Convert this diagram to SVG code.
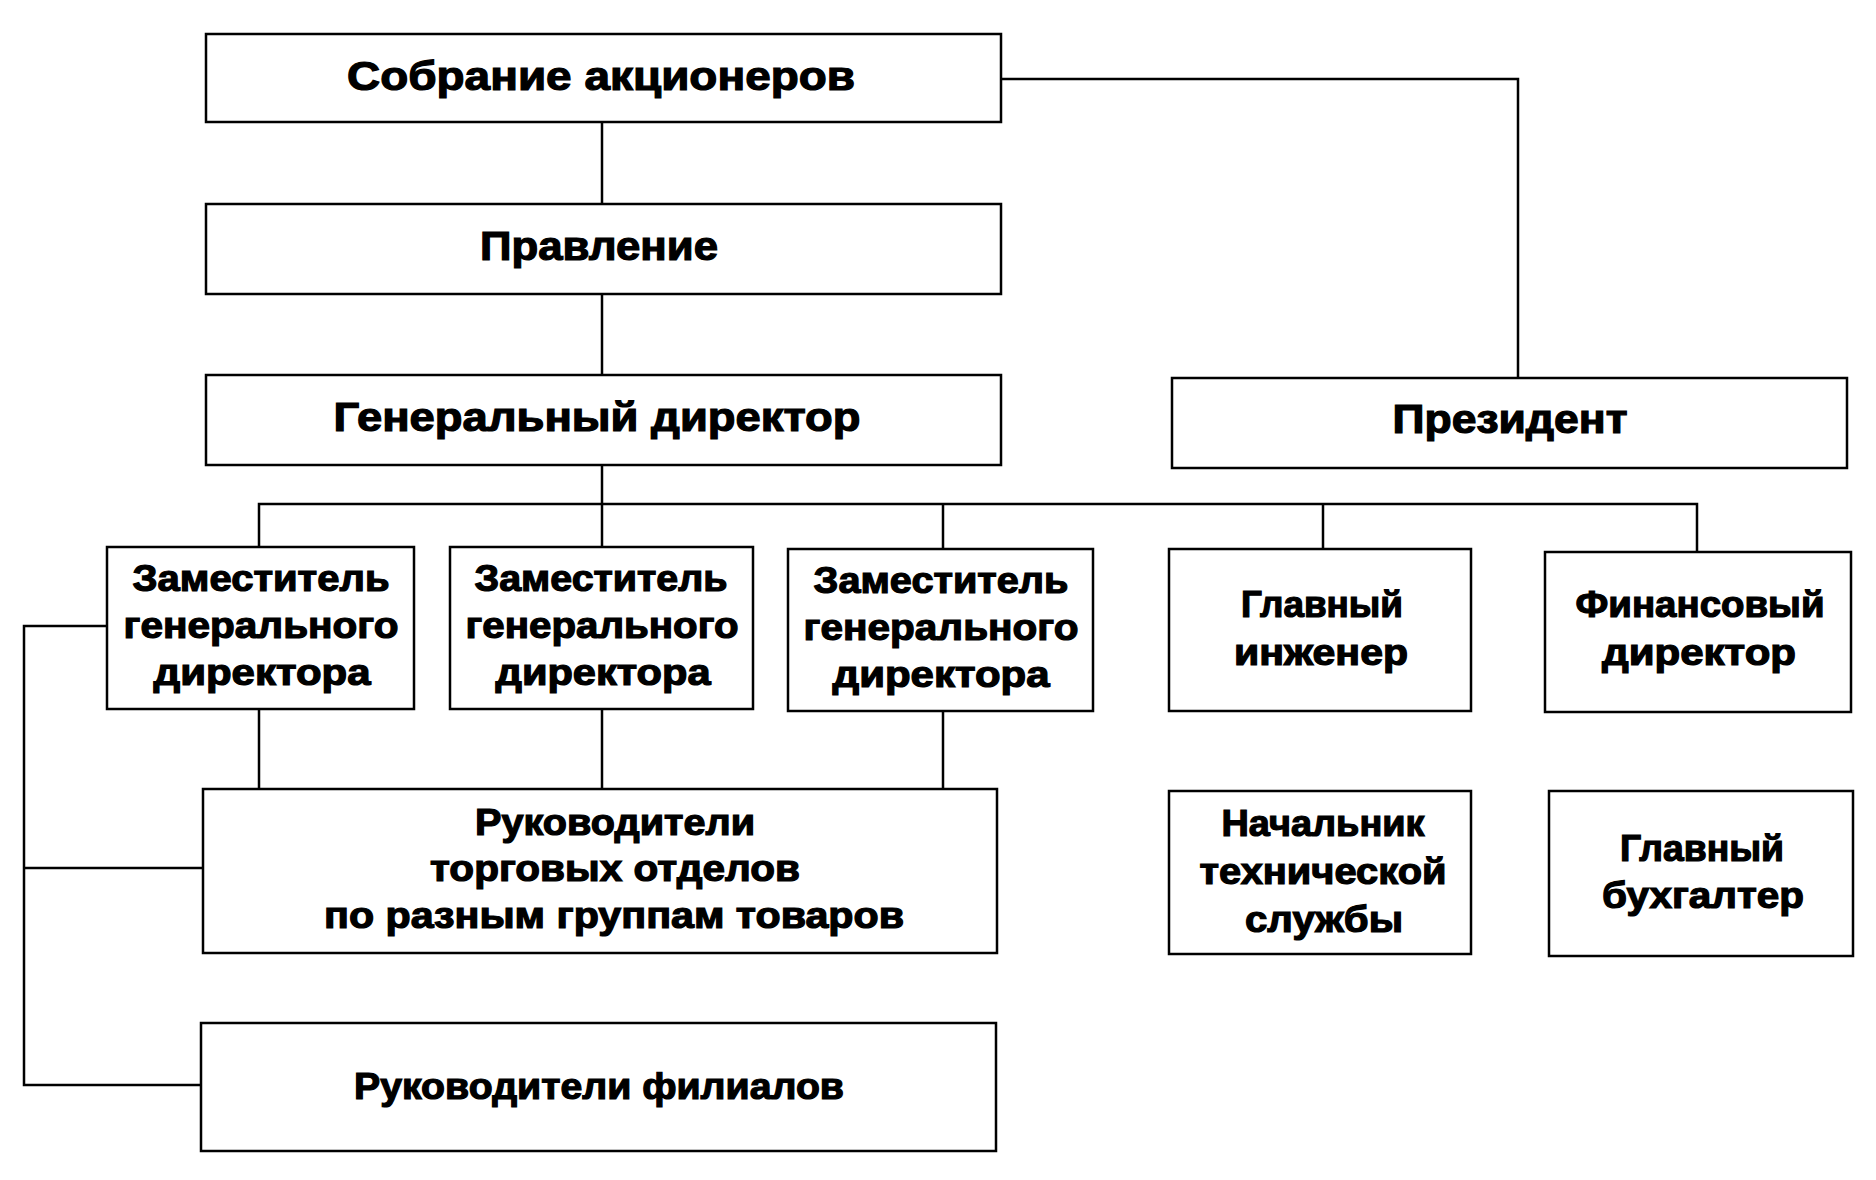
<svg xmlns="http://www.w3.org/2000/svg" width="1876" height="1180" viewBox="0 0 1876 1180">
<style>
.box{fill:#fff;stroke:#000;stroke-width:2.5}
.ln{fill:none;stroke:#000;stroke-width:2.5;stroke-linejoin:miter}
text{font-family:"Liberation Sans","DejaVu Sans",sans-serif;font-weight:bold;fill:#000;stroke:#000;stroke-width:1.2;text-anchor:middle}
.t1{font-size:40px}
.t2{font-size:36px}
</style>
<rect width="1876" height="1180" fill="#fff"/>
<g id="connectors">
<path class="ln" d="M1001 79 H1518 V378"/>
<path class="ln" d="M602 122 V204"/>
<path class="ln" d="M602 294 V375"/>
<path class="ln" d="M602 465 V547"/>
<path class="ln" d="M259 547 V504 H1697 V552"/>
<path class="ln" d="M943 504 V549"/>
<path class="ln" d="M1323 504 V549"/>
<path class="ln" d="M259 709 V789"/>
<path class="ln" d="M602 709 V789"/>
<path class="ln" d="M943 711 V789"/>
<path class="ln" d="M107 626 H24 V1085 H201"/>
<path class="ln" d="M24 868 H203"/>
</g>
<g id="sobranie"><rect class="box" x="206" y="34" width="795" height="88"/><text class="t1" x="601" y="90" textLength="508" lengthAdjust="spacingAndGlyphs">Собрание акционеров</text></g>
<g id="pravlenie"><rect class="box" x="206" y="204" width="795" height="90"/><text class="t1" x="599" y="260" textLength="238" lengthAdjust="spacingAndGlyphs">Правление</text></g>
<g id="gendir"><rect class="box" x="206" y="375" width="795" height="90"/><text class="t1" x="597" y="431" textLength="527" lengthAdjust="spacingAndGlyphs">Генеральный директор</text></g>
<g id="president"><rect class="box" x="1172" y="378" width="675" height="90"/><text class="t1" x="1510" y="433" textLength="235" lengthAdjust="spacingAndGlyphs">Президент</text></g>
<g id="deputy1"><rect class="box" x="107" y="547" width="307" height="162"/>
<text class="t2" x="261" y="591" textLength="257" lengthAdjust="spacingAndGlyphs">Заместитель</text>
<text class="t2" x="261" y="638" textLength="275" lengthAdjust="spacingAndGlyphs">генерального</text>
<text class="t2" x="262" y="685" textLength="217" lengthAdjust="spacingAndGlyphs">директора</text></g>
<g id="deputy2"><rect class="box" x="450" y="547" width="303" height="162"/>
<text class="t2" x="601" y="591" textLength="253" lengthAdjust="spacingAndGlyphs">Заместитель</text>
<text class="t2" x="602" y="638" textLength="273" lengthAdjust="spacingAndGlyphs">генерального</text>
<text class="t2" x="603" y="685" textLength="215" lengthAdjust="spacingAndGlyphs">директора</text></g>
<g id="deputy3"><rect class="box" x="788" y="549" width="305" height="162"/>
<text class="t2" x="941" y="593" textLength="255" lengthAdjust="spacingAndGlyphs">Заместитель</text>
<text class="t2" x="941" y="640" textLength="275" lengthAdjust="spacingAndGlyphs">генерального</text>
<text class="t2" x="941" y="687" textLength="217" lengthAdjust="spacingAndGlyphs">директора</text></g>
<g id="glavinzh"><rect class="box" x="1169" y="549" width="302" height="162"/>
<text class="t2" x="1322" y="617" textLength="162" lengthAdjust="spacingAndGlyphs">Главный</text>
<text class="t2" x="1321" y="665" textLength="174" lengthAdjust="spacingAndGlyphs">инженер</text></g>
<g id="findir"><rect class="box" x="1545" y="552" width="306" height="160"/>
<text class="t2" x="1700" y="617" textLength="249" lengthAdjust="spacingAndGlyphs">Финансовый</text>
<text class="t2" x="1699" y="665" textLength="194" lengthAdjust="spacingAndGlyphs">директор</text></g>
<g id="rukotd"><rect class="box" x="203" y="789" width="794" height="164"/>
<text class="t2" x="615" y="835" textLength="280" lengthAdjust="spacingAndGlyphs">Руководители</text>
<text class="t2" x="615" y="881" textLength="370" lengthAdjust="spacingAndGlyphs">торговых отделов</text>
<text class="t2" x="614" y="928" textLength="580" lengthAdjust="spacingAndGlyphs">по разным группам товаров</text></g>
<g id="nachtech"><rect class="box" x="1169" y="791" width="302" height="163"/>
<text class="t2" x="1323" y="836" textLength="203" lengthAdjust="spacingAndGlyphs">Начальник</text>
<text class="t2" x="1323" y="884" textLength="247" lengthAdjust="spacingAndGlyphs">технической</text>
<text class="t2" x="1324" y="932" textLength="158" lengthAdjust="spacingAndGlyphs">службы</text></g>
<g id="glavbuh"><rect class="box" x="1549" y="791" width="304" height="165"/>
<text class="t2" x="1702" y="861" textLength="164" lengthAdjust="spacingAndGlyphs">Главный</text>
<text class="t2" x="1703" y="908" textLength="202" lengthAdjust="spacingAndGlyphs">бухгалтер</text></g>
<g id="rukfil"><rect class="box" x="201" y="1023" width="795" height="128"/>
<text class="t2" x="599" y="1099" textLength="490" lengthAdjust="spacingAndGlyphs">Руководители филиалов</text></g>
</svg>
